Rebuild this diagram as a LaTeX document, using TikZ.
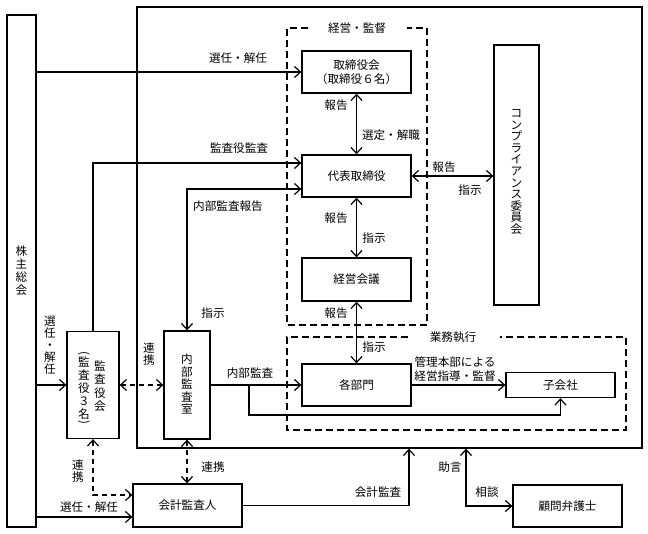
\documentclass[tikz,border=0pt]{standalone}
\usepackage{fontspec}
\newfontfamily\jp{Noto Sans CJK JP}
\usetikzlibrary{arrows.meta}
\tikzset{
  lbl/.style={font=\jp\fontsize{11.6}{13}\selectfont, inner sep=0pt},
  vt/.style={font=\jp\fontsize{11.6}{#1}\selectfont, inner sep=0pt, align=center},
  box/.style={draw, line width=1.3pt, inner sep=0pt, font=\jp\fontsize{11.6}{14}\selectfont, align=center},
  grp/.style={line width=1.3pt, dash pattern=on 7pt off 4pt},
  tip/.tip={Straight Barb[length=6pt,width=11pt,line width=1.2pt]},
  arr/.style={line width=1.2pt, -tip},
  darr/.style={line width=1.2pt, tip-tip},
  dsh/.style={line width=1.2pt, tip-tip, dash pattern=on 5pt off 4pt},
}
\begin{document}
\begin{tikzpicture}[x=1pt,y=-1pt]
\useasboundingbox (0,0) rectangle (648,534);

% outer frame
\node[box, minimum width=505pt, minimum height=441pt] (outer) at (389.5,227.5) {};

% group frames
\draw[grp] (308,28) -- (287,28) -- (287,325) -- (427,325) -- (427,28) -- (407,28);
\node[lbl] (gkeiei) at (357,28) {経営・監督};
\draw[grp] (408,337) -- (287,337) -- (287,430) -- (626,430) -- (626,337) -- (500,337);
\node[lbl] (ggyomu) at (453,337) {業務執行};

% boxes
\node[box, minimum width=29pt, minimum height=512pt] (kabu) at (21.5,271) {};
\node[vt=13] (kabut) at (21.5,271) {株\\主\\総\\会};
\node[box, minimum width=109pt, minimum height=42pt] (board) at (356.5,72) {取締役会\\（取締役６名）};
\node[box, minimum width=109pt, minimum height=42pt] (daihyo) at (356.5,176) {代表取締役};
\node[box, minimum width=109pt, minimum height=43pt] (keiei) at (356.5,279.5) {経営会議};
\node[box, minimum width=109pt, minimum height=42pt] (bumon) at (356.5,385) {各部門};
\node[box, minimum width=109pt, minimum height=25pt] (kogai) at (560.5,385) {子会社};
\node[box, minimum width=45pt, minimum height=260pt] (comp) at (516.5,175) {};
\node[vt=11.6] (compt) at (516.5,172) {コ\\ン\\プ\\ラ\\イ\\ア\\ン\\ス\\委\\員\\会};
\node[box, minimum width=52pt, minimum height=107pt] (kansa) at (93,385) {};
\node[vt=13.5] (kansat1) at (100,386) {監\\査\\役\\会};
\node[vt=13] (kansat2) at (84,388) {監\\査\\役\\３\\名};
\node[lbl, rotate=-90] (kp1) at (84,353.5) {(};
\node[lbl, rotate=-90] (kp2) at (84,422.5) {)};
\node[box, minimum width=46pt, minimum height=108pt] (naibu) at (187,385) {};
\node[vt=12.5] (naibut) at (187,384) {内\\部\\監\\査\\室};
\node[box, minimum width=109pt, minimum height=43pt] (kaikei) at (187.5,505.5) {会計監査人};
\node[box, minimum width=109pt, minimum height=42pt] (komon) at (567.5,506) {顧問弁護士};

% helper coordinates
\coordinate (y163) at (0,163);
\coordinate (y189) at (0,189);
\coordinate (y415) at (0,415);
\coordinate (y495) at (0,495);
\coordinate (y517) at (0,517);
\coordinate (br) at (249,385);
\coordinate (kx) at (409,0);
\coordinate (kx2) at (466,0);

% connectors
\draw[arr] (kabu.east |- board.west) -- (board.west);
\node[lbl] (l1) at (238,58) {選任・解任};
\draw[arr] (kansa.north) |- (daihyo.west |- y163);
\node[lbl] (l2) at (239,148) {監査役監査};
\draw[darr] (naibu.north) |- (daihyo.west |- y189);
\node[lbl] (l3) at (228,206) {内部監査報告};
\node[lbl] (l4) at (213,313) {指示};

\draw[darr] (board.south) -- (daihyo.north);
\node[lbl] (l5) at (336,105) {報告};
\node[lbl] (l6) at (391,135) {選定・解職};
\draw[darr] (daihyo.south) -- (keiei.north);
\node[lbl] (l7) at (336,218) {報告};
\node[lbl] (l8) at (374,238) {指示};
\draw[darr] (keiei.south) -- (bumon.north);
\node[lbl] (l9) at (336,313) {報告};
\node[lbl] (l10) at (374,347) {指示};

\draw[darr] (daihyo.east) -- (comp.west |- daihyo.east);
\node[lbl] (l11) at (444,167) {報告};
\node[lbl] (l12) at (470,190) {指示};

\draw[arr] (bumon.east) -- (kogai.west);
\node[lbl, align=center, font=\jp\fontsize{11.6}{14}\selectfont] (l13) at (455,369) {管理本部による\\経営指導・監督};

\draw[arr] (kabu.east |- kansa.west) -- (kansa.west);
\node[vt=12] (l14) at (50,345) {選\\任\\・\\解\\任};
\draw[dsh] (kansa.east) -- (naibu.west);
\node[vt=12] (l15) at (149,354) {連\\携};

\draw[arr] (naibu.east) -- (bumon.west);
\node[lbl] (l16) at (250,373) {内部監査};
\draw[arr] (br) |- (kogai.south |- y415) -- (kogai.south);

\draw[arr] (kabu.east |- y517) -- (kaikei.west |- y517);
\node[lbl] (l17) at (89,507) {選任・解任};
\draw[dsh] (kansa.south) |- (kaikei.west |- y495);
\node[vt=12] (l18) at (78,471) {連\\携};
\draw[dsh] (naibu.south) -- (naibu.south |- kaikei.north);
\node[lbl] (l19) at (213,467) {連携};

\draw[arr] (kaikei.east) -| (kx |- outer.south);
\node[lbl] (l20) at (378,492) {会計監査};
\draw[darr] (kx2 |- outer.south) |- (komon.west);
\node[lbl] (l21) at (450,467) {助言};
\node[lbl] (l22) at (487,492) {相談};
\end{tikzpicture}
\end{document}
